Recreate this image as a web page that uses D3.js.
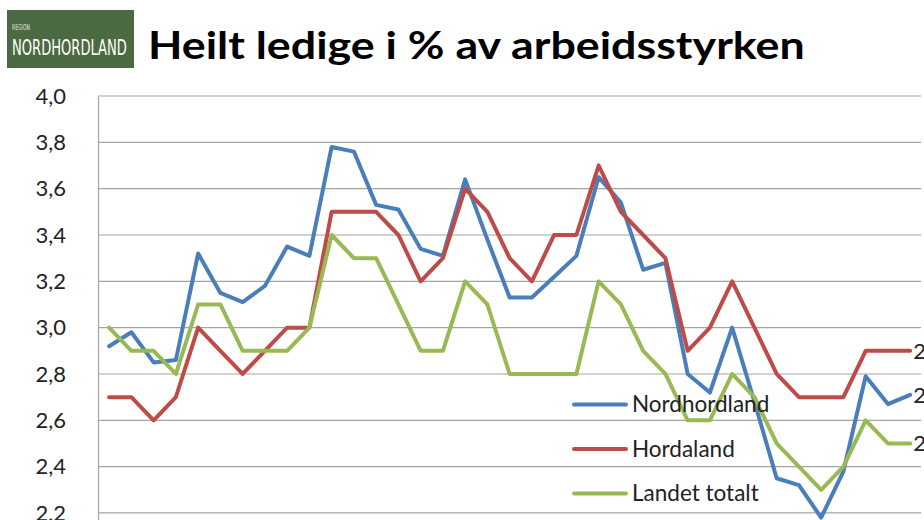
<!DOCTYPE html>
<html>
<head>
<meta charset="utf-8">
<script src="https://cdn.jsdelivr.net/npm/d3@7"></script>
<style>
  body { margin: 0; background: #fff; }
  svg { display: block; }
</style>
</head>
<body>
<svg id="chart" width="924" height="520"></svg>
<script>
// periods (months) - x labels are outside the visible picture
const periods = d3.range(1, 38)
const yTicks = [2.0, 2.2, 2.4, 2.6, 2.8, 3.0, 3.2, 3.4, 3.6, 3.8, 4.0]

const nordhordland = [2.92, 2.98, 2.85, 2.86, 3.32, 3.15, 3.11, 3.18, 3.35, 3.31,
    3.78, 3.76, 3.53, 3.51, 3.34, 3.31, 3.64, 3.38, 3.13, 3.13,
    3.22, 3.31, 3.65, 3.54, 3.25, 3.28, 2.80, 2.72, 3.00, 2.68,
    2.35, 2.32, 2.18, 2.38, 2.79, 2.67, 2.71]
const hordaland = [2.7, 2.7, 2.6, 2.7, 3.0, 2.9, 2.8, 2.9, 3.0, 3.0,
    3.5, 3.5, 3.5, 3.4, 3.2, 3.3, 3.6, 3.5, 3.3, 3.2,
    3.4, 3.4, 3.7, 3.5, 3.4, 3.3, 2.9, 3.0, 3.2, 3.0,
    2.8, 2.7, 2.7, 2.7, 2.9, 2.9, 2.9]
const landet = [3.0, 2.9, 2.9, 2.8, 3.1, 3.1, 2.9, 2.9, 2.9, 3.0,
    3.4, 3.3, 3.3, 3.1, 2.9, 2.9, 3.2, 3.1, 2.8, 2.8,
    2.8, 2.8, 3.2, 3.1, 2.9, 2.8, 2.6, 2.6, 2.8, 2.7,
    2.5, 2.4, 2.3, 2.4, 2.6, 2.5, 2.5]

const seriesNames = ["Nordhordland", "Hordaland", "Landet totalt"]
const seriesColors = ["#4a7ebb", "#be4b48", "#98b954"]
const seriesValues = [nordhordland, hordaland, landet]

const svg = d3.select("#chart")
const font = "Lato, Carlito, 'Open Sans', sans-serif"
const comma = v => d3.format(".1f")(v).replace(".", ",")

// squeeze a text to a given width with a horizontal scale
function fitWidth(sel, x0, width) {
    const w = sel.node().getComputedTextLength()
    sel.attr("x", 0).attr("transform", `translate(${x0},0) scale(${width / w},1)`)
}

// logo
const logo = svg.append("g")
logo.append("rect")
    .attr("x", 7).attr("y", 10)
    .attr("width", 127).attr("height", 58)
    .attr("fill", "#4b6a42")
logo.append("text")
    .attr("y", 30)
    .attr("font-family", "'Liberation Sans Narrow', 'DejaVu Sans Condensed', sans-serif")
    .attr("font-size", 8)
    .attr("fill", "#e4e8e0")
    .text("REGION")
    .call(fitWidth, 12, 18)
logo.append("text")
    .attr("y", 55)
    .attr("font-family", "'Liberation Sans Narrow', 'DejaVu Sans Condensed', sans-serif")
    .attr("font-size", 21)
    .attr("fill", "#fff")
    .text("NORDHORDLAND")
    .call(fitWidth, 12, 115)

// title
svg.append("text")
    .attr("y", 59)
    .attr("font-family", font)
    .attr("font-weight", "bold")
    .attr("font-size", 38)
    .attr("fill", "#000")
    .text("Heilt ledige i % av arbeidsstyrken")
    .call(fitWidth, 148, 657)

const x = d3.scalePoint()
    .domain(periods)
    .range([98, 921.3])
    .padding(0.5)

const y = d3.scaleLinear()
    .domain([2.0, 4.0])
    .range([559.3, 96])

// gridlines
svg.append("g")
    .selectAll("line")
    .data(yTicks)
    .join("line")
    .attr("x1", 98).attr("x2", 921)
    .attr("y1", d => y(d)).attr("y2", d => y(d))
    .attr("stroke", "#a3a3a3")
    .attr("stroke-width", 1.2)

// y axis
const yAxis = svg.append("g")
    .attr("transform", "translate(98,0)")
    .call(d3.axisLeft(y).tickValues(yTicks).tickFormat(comma).tickSize(0).tickPadding(32))
yAxis.select(".domain").attr("stroke", "#a3a3a3").attr("stroke-width", 1.2)
yAxis.selectAll("text")
    .attr("font-family", font)
    .attr("font-size", 22)
    .attr("fill", "#222")

// lines
const line = d3.line()
    .x((d, i) => x(periods[i]))
    .y(d => y(d))

svg.append("g")
    .selectAll("path")
    .data(seriesValues)
    .join("path")
    .attr("d", d => line(d))
    .attr("fill", "none")
    .attr("stroke", (d, i) => seriesColors[i])
    .attr("stroke-width", 4)
    .attr("stroke-linejoin", "round")
    .attr("stroke-linecap", "round")

// end value labels (cut by the picture edge)
svg.append("g")
    .selectAll("text")
    .data(seriesValues)
    .join("text")
    .attr("x", x(periods[periods.length - 1]) + 3)
    .attr("y", d => y(d[d.length - 1]))
    .attr("dy", "0.35em")
    .attr("font-family", font)
    .attr("font-size", 22)
    .attr("fill", "#222")
    .text(d => comma(d[d.length - 1]))

// legend
const legend = svg.append("g")
    .selectAll("g")
    .data(seriesNames)
    .join("g")
    .attr("transform", (d, i) => `translate(574,${404.5 + i * 44.5})`)
legend.append("line")
    .attr("x1", 0).attr("x2", 52)
    .attr("stroke", (d, i) => seriesColors[i])
    .attr("stroke-width", 4)
    .attr("stroke-linecap", "round")
legend.append("text")
    .attr("x", 58)
    .attr("dy", "0.35em")
    .attr("font-family", font)
    .attr("font-size", 22.5)
    .attr("fill", "#222")
    .text(d => d)
</script>
</body>
</html>
